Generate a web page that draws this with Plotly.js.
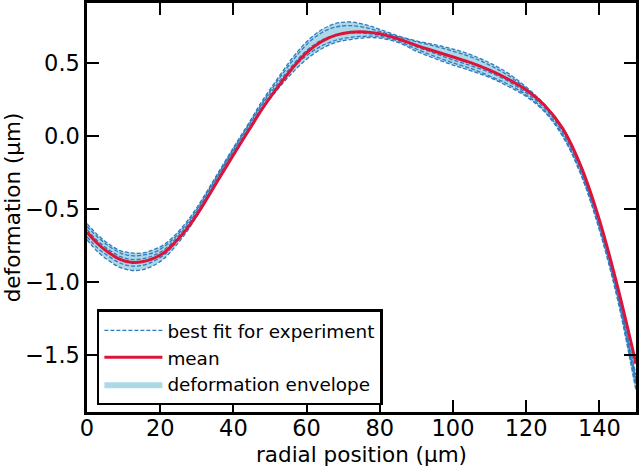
<!DOCTYPE html>
<html>
<head>
<meta charset="utf-8">
<script src="https://cdn.plot.ly/plotly-3.0.1.min.js"></script>
<style>html,body{margin:0;padding:0;background:#fff;}#chart{width:640px;height:468px;}</style>
</head>
<body>
<div id="chart"></div>
<script>
// radial positions (µm)
const radialPosition = [0,3,6,9,12,15,18,21,24,27,30,33,36,40,44,48,52,56,60,64,68,72,76,80,85,90,95,100,105,110,115,120,125,130,135,140,145,150];

// mean deformation (µm)
const meanDeformation = [-0.66,-0.74,-0.80,-0.845,-0.865,-0.862,-0.84,-0.80,-0.73,-0.645,-0.54,-0.42,-0.295,-0.13,0.03,0.19,0.33,0.46,0.57,0.645,0.69,0.71,0.712,0.70,0.665,0.62,0.58,0.54,0.50,0.45,0.39,0.315,0.21,0.05,-0.21,-0.575,-1.035,-1.56];

// best fits for individual experiments (µm)
const experiment1 = [-0.60,-0.68,-0.74,-0.785,-0.80,-0.802,-0.78,-0.745,-0.68,-0.595,-0.49,-0.37,-0.245,-0.08,0.08,0.245,0.39,0.53,0.645,0.725,0.77,0.78,0.762,0.73,0.685,0.65,0.625,0.595,0.555,0.50,0.43,0.335,0.215,0.045,-0.22,-0.595,-1.065,-1.64];
const experiment2 = [-0.62,-0.695,-0.755,-0.80,-0.82,-0.817,-0.80,-0.76,-0.695,-0.61,-0.505,-0.38,-0.255,-0.09,0.07,0.23,0.375,0.51,0.625,0.705,0.745,0.755,0.742,0.715,0.68,0.645,0.615,0.58,0.54,0.485,0.415,0.325,0.205,0.035,-0.23,-0.605,-1.08,-1.67];
const experiment3 = [-0.64,-0.72,-0.78,-0.825,-0.845,-0.842,-0.82,-0.78,-0.71,-0.625,-0.515,-0.39,-0.265,-0.10,0.06,0.22,0.355,0.48,0.585,0.655,0.69,0.705,0.702,0.69,0.665,0.61,0.565,0.52,0.48,0.435,0.375,0.295,0.19,0.02,-0.245,-0.62,-1.095,-1.69];
const experiment4 = [-0.69,-0.77,-0.825,-0.87,-0.89,-0.887,-0.86,-0.815,-0.74,-0.645,-0.53,-0.405,-0.275,-0.11,0.045,0.20,0.335,0.46,0.55,0.615,0.655,0.675,0.682,0.68,0.65,0.595,0.545,0.50,0.46,0.41,0.355,0.28,0.175,0.005,-0.26,-0.635,-1.11,-1.71];
const experiment5 = [-0.71,-0.795,-0.855,-0.90,-0.92,-0.917,-0.89,-0.84,-0.76,-0.665,-0.55,-0.425,-0.295,-0.13,0.03,0.185,0.315,0.43,0.525,0.595,0.64,0.66,0.672,0.67,0.64,0.58,0.53,0.485,0.445,0.40,0.34,0.27,0.165,-0.005,-0.27,-0.645,-1.125,-1.74];
const experiments = [experiment1, experiment2, experiment3, experiment4, experiment5];

// axis tick values / labels
const xTicks = [0,20,40,60,80,100,120,140];
const yTicks = [-1.5,-1.0,-0.5,0.0,0.5];
const yTickLabels = ['\u22121.5','\u22121.0','\u22120.5','0.0','0.5'];

// envelope = pointwise min / max over experiments
const envUpper = radialPosition.map((_, i) => Math.max(...experiments.map(e => e[i])));
const envLower = radialPosition.map((_, i) => Math.min(...experiments.map(e => e[i])));

const traces = [];
traces.push({
  x: radialPosition.concat(radialPosition.slice().reverse()),
  y: envUpper.concat(envLower.slice().reverse()),
  type: 'scatter', mode: 'lines', fill: 'toself',
  fillcolor: '#ADD8E6', line: {width: 0, shape: 'spline', smoothing: 1},
  name: 'deformation envelope', legendrank: 3, hoverinfo: 'skip'
});
experiments.forEach((e, k) => {
  traces.push({
    x: radialPosition, y: e, type: 'scatter', mode: 'lines',
    line: {color: '#2f7bbf', width: 1.3, dash: '4px,2px', shape: 'spline', smoothing: 1},
    name: 'best fit for experiment', legendgroup: 'exp', showlegend: k === 0, legendrank: 1
  });
});
traces.push({
  x: radialPosition, y: meanDeformation, type: 'scatter', mode: 'lines',
  line: {color: '#DC143C', width: 3, shape: 'spline', smoothing: 1},
  name: 'mean', legendrank: 2
});

const axisCommon = {
  showline: true, linecolor: '#000', linewidth: 2.6, mirror: 'ticks',
  ticks: 'inside', ticklen: 12, tickwidth: 2, tickcolor: '#000',
  showgrid: false, zeroline: false,
  tickfont: {family: 'DejaVu Sans', size: 22.5, color: '#000'}
};

const layout = {
  width: 640, height: 468,
  margin: {l: 87, r: 4, t: 3, b: 56},
  paper_bgcolor: '#fff', plot_bgcolor: '#fff',
  font: {family: 'DejaVu Sans', color: '#000'},
  xaxis: Object.assign({}, axisCommon, {
    range: [0, 150], tickvals: xTicks, ticktext: xTicks.map(String),
    ticklabelstandoff: -6,
    title: {text: 'radial position (\u03bcm)', font: {family: 'DejaVu Sans', size: 21.5, color: '#000'}, standoff: 8},
    automargin: false
  }),
  yaxis: Object.assign({}, axisCommon, {
    range: [-1.89, 0.91], tickvals: yTicks, ticktext: yTickLabels,
    title: {text: 'deformation (\u03bcm)', font: {family: 'DejaVu Sans', size: 21.5, color: '#000'}, standoff: 6},
    automargin: false
  }),
  showlegend: true,
  legend: {
    x: 0.018, y: 0.016, xanchor: 'left', yanchor: 'bottom',
    bgcolor: '#fff', bordercolor: '#000', borderwidth: 2.5,
    font: {family: 'DejaVu Sans', size: 18.4, color: '#000'},
    traceorder: 'normal', itemwidth: 58
  }
};

Plotly.newPlot('chart', traces, layout, {displayModeBar: false, staticPlot: true});
</script>
</body>
</html>
